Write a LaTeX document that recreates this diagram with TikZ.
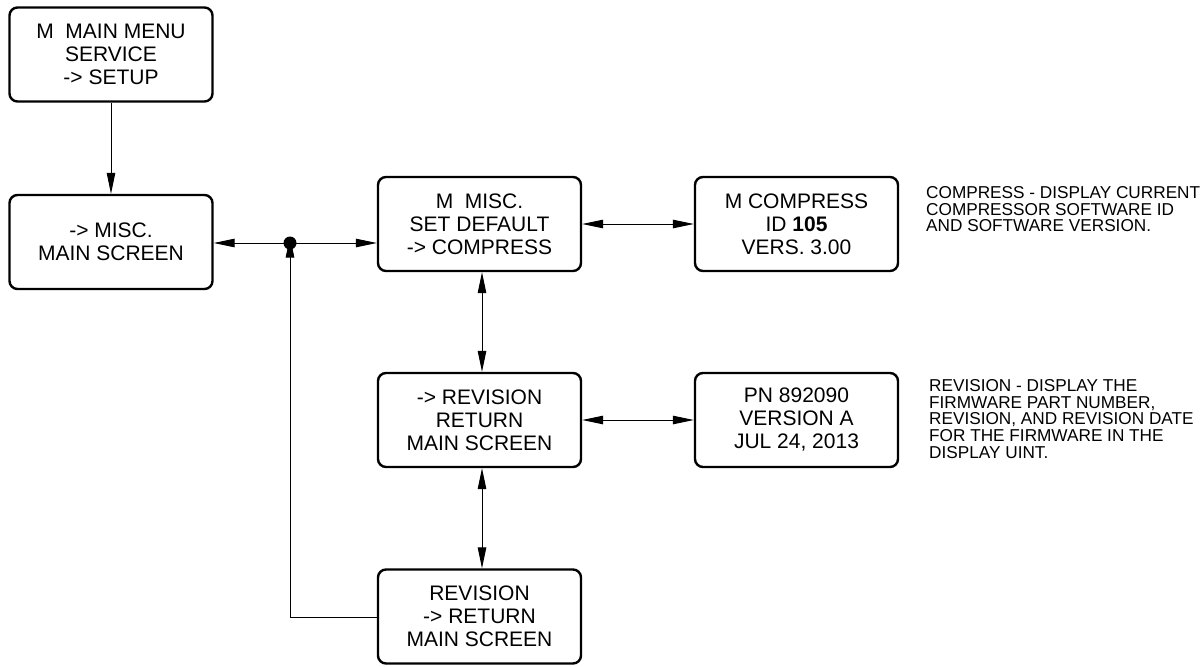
\documentclass[tikz,border=0pt]{standalone}
\usepackage{fontspec}
\setmainfont{Liberation Sans}
\usetikzlibrary{arrows.meta}
\tikzset{
  x=1pt,y=-1pt,
  menubox/.style={draw,line width=2.4pt,rounded corners=8pt,minimum width=203pt,minimum height=94pt,align=center,inner sep=0pt,font=\fontsize{21}{23}\selectfont},
  conn/.style={line width=1pt},
  tip/.style={-{Triangle[length=21pt,width=8.5pt]}},
  both/.style={{Triangle[length=21pt,width=8.5pt]}-{Triangle[length=21pt,width=8.5pt]}},
  note/.style={anchor=north west,align=left,inner sep=0pt,font=\fontsize{17.2}{16.8}\selectfont}
}
\begin{document}
\begin{tikzpicture}
\useasboundingbox (0,0) rectangle (1203,667);
\node[menubox] (b1) at (111,54.5) {M\ \ MAIN MENU\\SERVICE\\-> SETUP};
\node[menubox] (b2) at (111,242) {-> MISC.\\MAIN SCREEN};
\node[menubox] (b3) at (479.5,224) {M\ \ MISC.\\SET DEFAULT\\-> COMPRESS};
\node[menubox] (b4) at (796.5,224) {M COMPRESS\\ID \textbf{105}\\VERS. 3.00};
\node[menubox] (b5) at (479.5,420) {-> REVISION\\RETURN\\MAIN SCREEN};
\node[menubox] (b7) at (796.5,420) {PN 892090\\VERSION A\\JUL 24, 2013};
\node[menubox] (b6) at (479.5,616.5) {REVISION\\-> RETURN\\MAIN SCREEN};
\node[note] (n1) at (926,186) {COMPRESS - DISPLAY CURRENT\\COMPRESSOR SOFTWARE ID\\AND SOFTWARE VERSION.};
\node[note] (n2) at (929,379) {REVISION - DISPLAY THE\\FIRMWARE PART NUMBER,\\REVISION, AND REVISION DATE\\FOR THE FIRMWARE IN THE\\DISPLAY UINT.};
\fill (290,243) circle (6.5pt) coordinate (dot);
\coordinate (corner) at (290,617);
\draw[conn,tip] (b1) -- (b2);
\draw[conn,tip] (dot) -- (b2.east |- dot);
\draw[conn,tip] (dot) -- (b3.west |- dot);
\draw[conn,both] (b3) -- (b4);
\draw[conn,both] (b5) -- (b7);
\draw[conn,both] (b3.south -| 482,0) -- (b5.north -| 482,0);
\draw[conn,both] (b5.south -| 482,0) -- (b6.north -| 482,0);
\draw[conn,tip] (b6.west |- corner) -- (corner) -- ([yshift=6.5pt]dot);
\end{tikzpicture}
\end{document}
